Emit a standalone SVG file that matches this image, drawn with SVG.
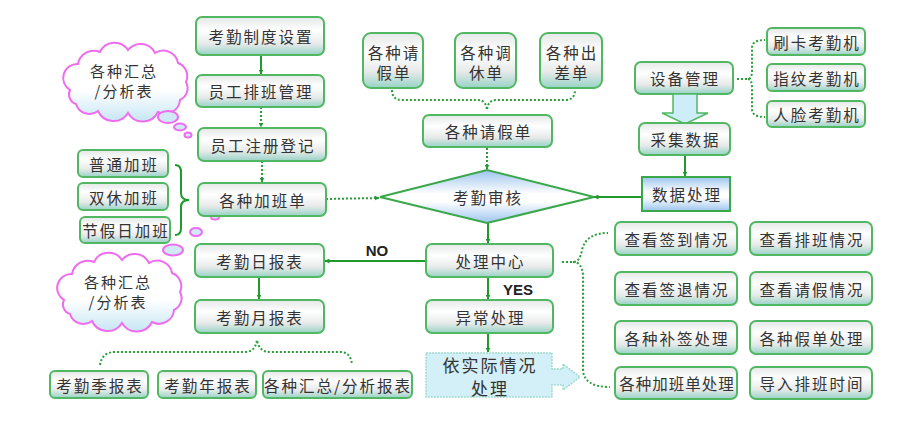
<svg xmlns="http://www.w3.org/2000/svg" width="919" height="430" viewBox="0 0 919 430">
<defs>
<linearGradient id="gBox" x1="0" y1="0" x2="0" y2="1">
<stop offset="0" stop-color="#e4e8e6"/>
<stop offset="0.35" stop-color="#ffffff"/>
<stop offset="0.7" stop-color="#e8eaea"/>
<stop offset="1" stop-color="#96d3c6"/>
</linearGradient>
<linearGradient id="gBlue" x1="0" y1="0" x2="0" y2="1">
<stop offset="0" stop-color="#9cc4ee"/>
<stop offset="0.45" stop-color="#ffffff"/>
<stop offset="0.6" stop-color="#ffffff"/>
<stop offset="1" stop-color="#9cc4ee"/>
</linearGradient>
<linearGradient id="gCloud" x1="0" y1="0" x2="0" y2="1">
<stop offset="0" stop-color="#ffffff"/>
<stop offset="0.6" stop-color="#ffffff"/>
<stop offset="1" stop-color="#c6e6f4"/>
</linearGradient>
<marker id="ah" viewBox="0 0 10 10" refX="9" refY="5" markerWidth="5" markerHeight="5" orient="auto" markerUnits="userSpaceOnUse">
<path d="M0,0 L10,5 L0,10 Z" fill="#1f9a2c"/>
</marker>
<path id="cloud" d="M -57,8 A 14 14 0 0 1 -49,-18 A 16 16 0 0 1 -27,-30 A 16 16 0 0 1 1,-32 A 16 16 0 0 1 28,-29 A 15 15 0 0 1 51,-19 A 14 14 0 0 1 59,0 A 13 13 0 0 1 53,18 A 15 15 0 0 1 31,30 A 17 17 0 0 1 1,31 A 17 17 0 0 1 -29,29 A 14 14 0 0 1 -51,22 A 10 10 0 0 1 -57,8 Z"/>
</defs>
<style>
.box{fill:url(#gBox);stroke:#52b763;stroke-width:2}
.sq{fill:url(#gBlue);stroke:#3aa84a;stroke-width:2}
.lt{fill:#d3eff8;stroke:#9fdccf;stroke-width:1.5;stroke-dasharray:2 1}
.cl{fill:url(#gCloud);stroke:#ee6cee;stroke-width:2}
.bub{fill:#cfe9f5;stroke:#ee6cee;stroke-width:2}
.t{font-family:"Noto Sans CJK SC","Noto Sans",sans-serif;font-size:15.5px;fill:#333;text-anchor:middle;dominant-baseline:central;letter-spacing:2px}
.tc{font-size:15px}
.tb{font-family:"Liberation Sans",Arial,sans-serif;font-weight:bold;font-size:15px;fill:#222;text-anchor:middle;dominant-baseline:central}
.s{fill:none;stroke:#1f9a2c;stroke-width:2}
.d{fill:none;stroke:#2a9d3a;stroke-width:2;stroke-dasharray:2 2}
.fat{fill:#cdeef8;stroke:#52b763;stroke-width:1.5}
</style>

<g id="connectors">
<path class="s" d="M261,55 L261,74" marker-end="url(#ah)"/>
<path class="d" d="M261,107 L261,127" marker-end="url(#ah)"/>
<path class="d" d="M262,161 L262,182" marker-end="url(#ah)"/>
<path class="d" d="M326,199 L379,198" marker-end="url(#ah)"/>
<path class="s" d="M175,165 Q181,165 181,172 L181,193 Q181,200 189,200 Q181,200 181,207 L181,228 Q181,235 175,235"/>
<path class="d" d="M392,90 Q392,100 402,100 L478,100 Q486,100 487,110 Q488,100 496,100 L565,100 Q575,100 575,90"/>
<path class="d" d="M487,148 L487,169" marker-end="url(#ah)"/>
<path class="s" d="M685,155 L685,176" marker-end="url(#ah)"/>
<path class="s" d="M642,197 L594,197" marker-end="url(#ah)"/>
<path class="d" d="M737,79 L748,79 Q752,79 752,70 L752,48 Q752,40 765,40 M748,79 Q752,79 752,88 L752,109 Q752,117 765,117"/>
<path class="s" d="M488,223 L488,243" marker-end="url(#ah)"/>
<path class="s" d="M488,277 L488,299" marker-end="url(#ah)"/>
<path class="s" d="M488,333 L488,352" marker-end="url(#ah)"/>
<path class="s" d="M426,261 L325,261" marker-end="url(#ah)"/>
<path class="s" d="M259,277 L259,299" marker-end="url(#ah)"/>
<path class="d" d="M100,365 Q102,352 115,352 L245,352 Q255,352 257,340 Q259,352 270,352 L340,352 Q351,352 352,365"/>
<path class="d" d="M562,262 L573,262 Q580,262 582,250 Q586,233 608,233 M573,262 Q582,262 583,275 L583,370 Q584,387 610,387"/>
<text class="tb" x="377" y="250">NO</text>
<text class="tb" x="518" y="289">YES</text>
</g>

<g id="cloud1">
<use href="#cloud" class="cl" transform="translate(127,82)"/>
<ellipse class="bub" cx="168" cy="117" rx="10" ry="6"/>
<ellipse class="bub" cx="180" cy="127" rx="6" ry="3.5"/>
<ellipse class="bub" cx="188" cy="135" rx="3.5" ry="2.5"/>
<text class="t tc" x="124" y="70.5">各种汇总</text>
<text class="t tc" x="124" y="90.5">/分析表</text>
</g>
<g id="cloud2">
<use href="#cloud" class="cl" transform="translate(121,292)"/>
<ellipse class="bub" cx="173" cy="250" rx="10" ry="5.5"/>
<ellipse class="bub" cx="196" cy="232" rx="6" ry="4"/>
<ellipse class="bub" cx="215" cy="217" rx="4" ry="2.5"/>
<text class="t tc" x="118" y="281.5">各种汇总</text>
<text class="t tc" x="118" y="301.5">/分析表</text>
</g>

<g id="n-kqzdsz"><rect class="box" x="196" y="17" width="128" height="38" rx="6"/><text class="t" x="261" y="36">考勤制度设置</text></g>
<g id="n-ygpbgl"><rect class="box" x="196" y="75" width="128" height="32" rx="6"/><text class="t" x="261" y="91">员工排班管理</text></g>
<g id="n-ygzcdj"><rect class="box" x="198" y="128" width="128" height="33" rx="6"/><text class="t" x="263" y="144.5">员工注册登记</text></g>
<g id="n-gzjbd"><rect class="box" x="198" y="183" width="128" height="33" rx="6"/><text class="t" x="263" y="199.5">各种加班单</text></g>
<g id="n-kqrbb"><rect class="box" x="195" y="244" width="129" height="33" rx="6"/><text class="t" x="260" y="260.5">考勤日报表</text></g>
<g id="n-kqybb"><rect class="box" x="195" y="300" width="129" height="33" rx="6"/><text class="t" x="260" y="316.5">考勤月报表</text></g>

<g id="n-ptjb"><rect class="box" x="78" y="150" width="90" height="27" rx="5"/><text class="t" x="124" y="163.5">普通加班</text></g>
<g id="n-sxjb"><rect class="box" x="78" y="183" width="90" height="27" rx="5"/><text class="t" x="124" y="196.5">双休加班</text></g>
<g id="n-jjrjb"><rect class="box" x="80" y="217" width="90" height="26" rx="5"/><text class="t" x="126" y="230">节假日加班</text></g>

<g id="n-kqjbb"><rect class="box" x="50" y="371" width="98" height="27" rx="5"/><text class="t" x="100" y="384.5">考勤季报表</text></g>
<g id="n-kqnbb"><rect class="box" x="158" y="371" width="98" height="27" rx="5"/><text class="t" x="208" y="384.5">考勤年报表</text></g>
<g id="n-gzhzbb"><rect class="box" x="263" y="371" width="149" height="27" rx="5"/><text class="t" x="338" y="384.5">各种汇总/分析报表</text></g>

<g id="n-qjd3"><rect class="box" x="363" y="33" width="60" height="55" rx="8"/><text class="t" x="394" y="52">各种请</text><text class="t" x="394" y="72">假单</text></g>
<g id="n-txd"><rect class="box" x="455" y="33" width="61" height="55" rx="8"/><text class="t" x="486.5" y="52">各种调</text><text class="t" x="486.5" y="72">休单</text></g>
<g id="n-ccd"><rect class="box" x="540" y="33" width="62" height="55" rx="8"/><text class="t" x="572" y="52">各种出</text><text class="t" x="572" y="72">差单</text></g>
<g id="n-gzqjd"><rect class="box" x="423" y="115" width="129" height="32" rx="6"/><text class="t" x="488.5" y="131">各种请假单</text></g>

<g id="n-kqsh"><polygon points="380,197 487,170 594,197 487,223" fill="url(#gBlue)" stroke="#3aa84a" stroke-width="2"/><text class="t" x="488" y="197">考勤审核</text></g>

<g id="n-sbgl"><rect class="box" x="635" y="62" width="98" height="32" rx="6"/><text class="t" x="685" y="78">设备管理</text></g>
<g id="bigarrow"><polygon class="fat" points="673,94 697,94 697,113 708,113 685,124 662,113 673,113"/></g>
<g id="n-cjsj"><rect class="box" x="639" y="123" width="91" height="32" rx="6"/><text class="t" x="685.5" y="139">采集数据</text></g>
<g id="n-sjcl"><rect class="sq" x="642" y="177" width="88" height="34"/><text class="t" x="687" y="194">数据处理</text></g>

<g id="n-skkqj"><rect class="box" x="767" y="28" width="98" height="27" rx="5"/><text class="t" x="817" y="41.5">刷卡考勤机</text></g>
<g id="n-zwkqj"><rect class="box" x="767" y="64" width="98" height="27" rx="5"/><text class="t" x="817" y="77.5">指纹考勤机</text></g>
<g id="n-rlkqj"><rect class="box" x="767" y="101" width="98" height="26" rx="5"/><text class="t" x="817" y="114">人脸考勤机</text></g>

<g id="n-clzx"><rect class="box" x="426" y="244" width="127" height="33" rx="6"/><text class="t" x="490.5" y="260.5">处理中心</text></g>
<g id="n-yccl"><rect class="box" x="426" y="300" width="127" height="33" rx="6"/><text class="t" x="490.5" y="316.5">异常处理</text></g>
<g id="n-ysjqk">
<polygon class="lt" points="426,353 552,353 552,369 563,369 563,364 580,377 563,390 563,385 552,385 552,397 426,397"/>
<text class="t" x="490" y="364" style="font-size:17px">依实际情况</text>
<text class="t" x="490" y="387" style="font-size:17px">处理</text>
</g>

<g id="n-ckqdqk"><rect class="box" x="615" y="222" width="122" height="33" rx="6"/><text class="t" x="677" y="238.5">查看签到情况</text></g>
<g id="n-ckpbqk"><rect class="box" x="750" y="222" width="122" height="33" rx="6"/><text class="t" x="812" y="238.5">查看排班情况</text></g>
<g id="n-ckqtqk"><rect class="box" x="615" y="272" width="122" height="33" rx="6"/><text class="t" x="677" y="288.5">查看签退情况</text></g>
<g id="n-ckqjqk"><rect class="box" x="750" y="272" width="122" height="33" rx="6"/><text class="t" x="812" y="288.5">查看请假情况</text></g>
<g id="n-gzbqcl"><rect class="box" x="615" y="321" width="122" height="33" rx="6"/><text class="t" x="677" y="337.5">各种补签处理</text></g>
<g id="n-gzjdcl"><rect class="box" x="750" y="321" width="122" height="33" rx="6"/><text class="t" x="812" y="337.5">各种假单处理</text></g>
<g id="n-gzjbdcl"><rect class="box" x="615" y="367" width="122" height="32" rx="6"/><text class="t" x="677" y="383" style="letter-spacing:1px">各种加班单处理</text></g>
<g id="n-drpbsj"><rect class="box" x="750" y="367" width="122" height="32" rx="6"/><text class="t" x="812" y="383">导入排班时间</text></g>
</svg>
